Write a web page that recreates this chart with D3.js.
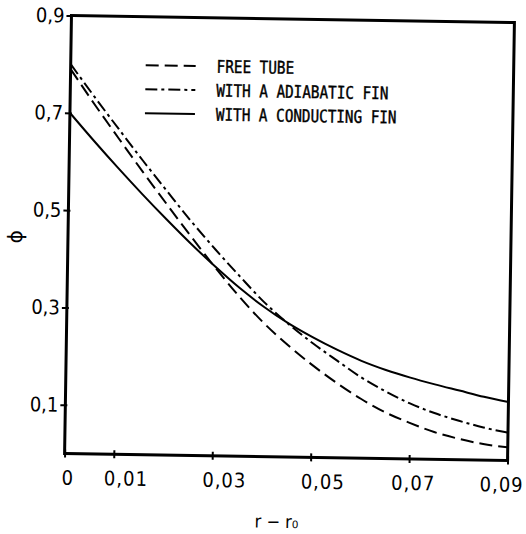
<!DOCTYPE html>
<html><head><meta charset="utf-8">
<script src="https://cdn.jsdelivr.net/npm/d3@7"></script>
<style>body{margin:0;background:#fff}svg{display:block}</style>
</head><body>
<svg id="chart" width="526" height="534"></svg>
<script>
// ---- data ----
const rValues       = [0,0.005,0.01,0.015,0.02,0.025,0.03,0.035,0.04,0.045,0.05,0.055,0.06,0.065,0.07,0.075,0.08,0.085,0.09];
const freeTube      = [0.79,0.718,0.649,0.581,0.515,0.450,0.387,0.328,0.275,0.230,0.190,0.154,0.122,0.095,0.074,0.056,0.043,0.033,0.027];
const adiabaticFin  = [0.80,0.733,0.668,0.604,0.542,0.481,0.424,0.370,0.318,0.274,0.235,0.200,0.166,0.138,0.114,0.095,0.080,0.067,0.057];
const conductingFin = [0.70,0.643,0.588,0.535,0.484,0.435,0.389,0.346,0.308,0.275,0.247,0.222,0.200,0.182,0.167,0.154,0.142,0.130,0.120];
const seriesNames   = ["FREE TUBE","WITH A ADIABATIC FIN","WITH A CONDUCTING FIN"];
const xTickValues   = [0,0.01,0.03,0.05,0.07,0.09];
const yTickValues   = [0.1,0.3,0.5,0.7,0.9];
const xTitle = "r − r₀";
const yTitle = "ϕ";

// ---- layout ----
const L = 68, R = 511, T = 19, B = 457;
const tilt = 0.9; // scanned page is slightly rotated
const dashStyles = ["13,6", "12,4,3,4", null];
const xLabelNudge = [3, 12, 12, 12, 4, -6];

const locale = d3.formatLocale({decimal: ",", thousands: ".", grouping: [3], currency: ["", ""]});
const fx = v => v === 0 ? "0" : locale.format(".2f")(v);
const fy = locale.format(".1f");

const svg = d3.select("#chart");
const g = svg.append("g").attr("transform", `rotate(${tilt},${(L+R)/2},${(T+B)/2})`);

const x = d3.scaleLinear().domain([0, 0.09]).range([L, R]);
const y = d3.scaleLinear().domain([0, 0.9]).range([B, T]);

// frame
g.append("rect").attr("x", L).attr("y", T).attr("width", R - L).attr("height", B - T)
  .attr("fill", "none").attr("stroke", "#000").attr("stroke-width", 3);

// bottom axis
const xAxis = g.append("g").attr("transform", `translate(0,${B})`)
  .call(d3.axisBottom(x).tickValues(xTickValues).tickFormat(fx).tickSizeOuter(0).tickSize(4).tickPadding(13));
xAxis.select(".domain").remove();
xAxis.selectAll(".tick line").attr("y1", -4).attr("y2", 4).attr("stroke-width", 2);
xAxis.selectAll(".tick text")
  .attr("font-family", "'DejaVu Sans Condensed', 'DejaVu Sans', sans-serif")
  .attr("font-size", 20).attr("letter-spacing", 1).attr("fill", "#000")
  .attr("dx", (d, i) => xLabelNudge[i]);

// left axis
const yAxis = g.append("g").attr("transform", `translate(${L},0)`)
  .call(d3.axisLeft(y).tickValues(yTickValues).tickFormat(fy).tickSizeOuter(0).tickSize(4).tickPadding(4));
yAxis.select(".domain").remove();
yAxis.selectAll(".tick line").attr("x1", -5).attr("x2", 2).attr("stroke-width", 2);
yAxis.selectAll(".tick text")
  .attr("font-family", "'DejaVu Sans Condensed', 'DejaVu Sans', sans-serif")
  .attr("font-size", 20).attr("fill", "#000").attr("x", -7);

// curves
const line = d3.line().x((d, i) => x(rValues[i])).y(d => y(d)).curve(d3.curveMonotoneX);
[freeTube, adiabaticFin, conductingFin].forEach((s, k) => {
  g.append("path").datum(s).attr("d", line)
    .attr("fill", "none").attr("stroke", "#000").attr("stroke-width", 2)
    .attr("stroke-dasharray", dashStyles[k]);
});

// legend
const leg = g.append("g");
seriesNames.forEach((name, k) => {
  const cy = 67.5 + k * 24;
  leg.append("line").attr("x1", 143).attr("x2", 193).attr("y1", cy).attr("y2", cy)
    .attr("stroke", "#000").attr("stroke-width", 2).attr("stroke-dasharray", dashStyles[k]);
  leg.append("text").attr("transform", `translate(214,${cy + 6.3}) scale(1,1.22)`)
    .attr("font-family", "'DejaVu Sans Mono', monospace").attr("font-size", 14.3)
    .attr("fill", "#000").attr("stroke", "#000").attr("stroke-width", 0.35).text(name);
});

// axis titles
g.append("text").attr("x", 281).attr("y", 528).attr("text-anchor", "middle")
  .attr("font-family", "'DejaVu Sans Condensed', 'DejaVu Sans', sans-serif").attr("font-size", 18)
  .text(xTitle);
g.append("text").attr("transform", "translate(22,241) rotate(-90)").attr("text-anchor", "middle")
  .attr("font-family", "'DejaVu Sans', sans-serif").attr("font-size", 20)
  .text(yTitle);
</script>
</body></html>
